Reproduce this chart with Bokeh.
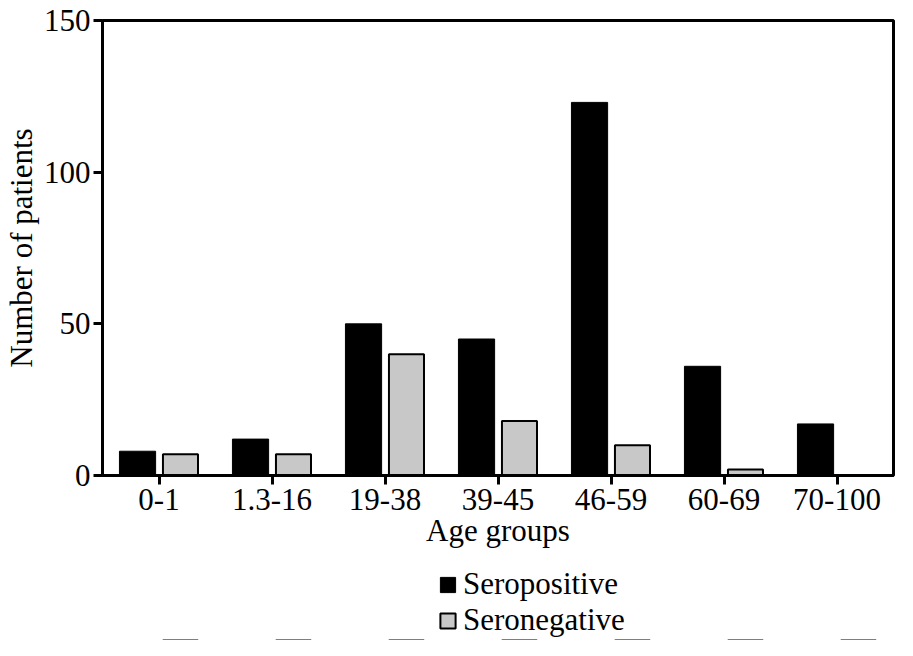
from bokeh.plotting import figure
from bokeh.layouts import column
from bokeh.models import FactorRange, Range1d, FixedTicker, Legend, LegendItem, ColumnDataSource
from bokeh.transform import dodge
from bokeh.embed import file_html
from bokeh.resources import INLINE

age_groups = ["0-1", "1.3-16", "19-38", "39-45", "46-59", "60-69", "70-100"]
seropositive = [8, 12, 50, 45, 123, 36, 17]
seronegative = [7, 7, 40, 18, 10, 2, 0]
y_ticks = [0, 50, 100, 150]
series_names = ["Seropositive", "Seronegative"]

FONT = "Liberation Serif"
FS = "31px"
POS_STYLE = dict(fill_color="black", line_color="black", line_width=1)
NEG_STYLE = dict(fill_color="#c8c8c8", line_color="black", line_width=2)

src = ColumnDataSource(dict(age=age_groups, pos=seropositive, neg=seronegative))

p = figure(width=897, height=550,
           x_range=FactorRange(factors=age_groups, range_padding=0),
           y_range=Range1d(0, 150),
           output_backend="svg", toolbar_location=None,
           min_border_top=20, min_border_right=4, min_border_left=10,
           min_border_bottom=0)

p.vbar(x=dodge("age", -0.19, range=p.x_range), top="pos", width=0.32,
       source=src, **POS_STYLE)
p.vbar(x=dodge("age", 0.19, range=p.x_range), top="neg", width=0.31,
       source=src, **NEG_STYLE)

p.xgrid.visible = False
p.ygrid.visible = False
p.outline_line_color = "black"
p.outline_line_width = 3
p.background_fill_color = "white"
p.border_fill_color = "white"

for ax in (p.xaxis, p.yaxis):
    ax.axis_line_width = 3
    ax.axis_line_color = "black"
    ax.major_tick_line_width = 3
    ax.major_tick_out = 9
    ax.major_tick_in = 0
    ax.minor_tick_line_color = None
    ax.major_label_text_font = FONT
    ax.major_label_text_font_size = FS
    ax.major_label_text_color = "black"
    ax.axis_label_text_font = FONT
    ax.axis_label_text_font_size = FS
    ax.axis_label_text_font_style = "normal"
    ax.axis_label_text_color = "black"

p.yaxis.ticker = FixedTicker(ticks=y_ticks)
p.yaxis.major_label_standoff = 3
p.yaxis.axis_label = "Number of patients"
p.yaxis.axis_label_standoff = 2
p.xaxis.major_label_standoff = 4
p.xaxis.axis_label = "Age groups"
p.xaxis.axis_label_standoff = 0

# legend strip below the chart (its bars lie outside the visible range;
# they only supply the legend swatches)
q = figure(width=897, height=90,
           x_range=FactorRange(factors=age_groups, range_padding=0),
           y_range=Range1d(1000, 1001),
           x_axis_location=None, y_axis_location=None,
           output_backend="svg", toolbar_location=None,
           min_border=0)
q.grid.visible = False
q.outline_line_color = None
q.background_fill_color = "white"
q.border_fill_color = "white"

lr1 = q.vbar(x=dodge("age", -0.19, range=q.x_range), top="pos", width=0.32,
             source=src, **POS_STYLE)
lr2 = q.vbar(x=dodge("age", 0.19, range=q.x_range), top="neg", width=0.31,
             source=src, **NEG_STYLE)

legend = Legend(items=[LegendItem(label=series_names[0], renderers=[lr1]),
                       LegendItem(label=series_names[1], renderers=[lr2])],
                orientation="vertical", location=(336, 2),
                border_line_color=None, background_fill_alpha=0,
                label_text_font=FONT, label_text_font_size=FS,
                label_text_color="black",
                glyph_width=19, glyph_height=19, spacing=0, padding=2,
                margin=0, label_standoff=6)
q.add_layout(legend, "center")

layout = column(p, q, spacing=0)
open("out.html", "w").write(file_html(layout, INLINE))
